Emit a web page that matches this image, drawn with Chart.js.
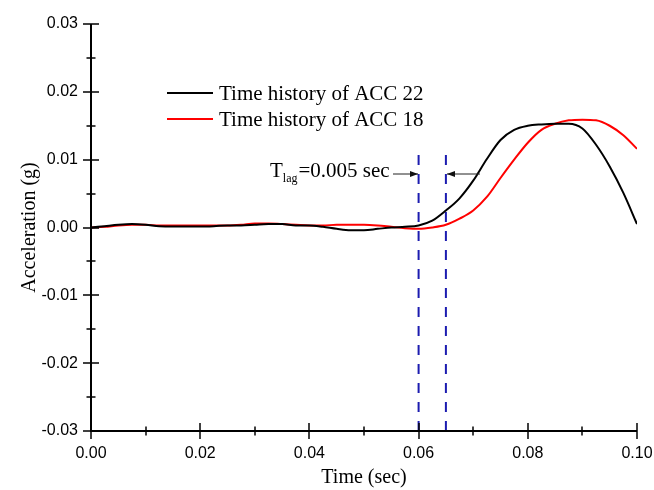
<!DOCTYPE html>
<html>
<head>
<meta charset="utf-8">
<script src="https://cdn.jsdelivr.net/npm/chart.js@4"></script>
<style>
  body { margin: 0; background: #ffffff; }
  #grafico { display: block; }
</style>
</head>
<body>
<canvas id="grafico" width="654" height="490"></canvas>
<script>

// dados (tempo em segundos, aceleracao em g)
const tempo = [0, 0.0025, 0.005, 0.0075, 0.01, 0.0125, 0.015, 0.0175, 0.02, 0.0225,
  0.025, 0.0275, 0.03, 0.0325, 0.035, 0.0375, 0.04, 0.0425, 0.045, 0.0475,
  0.05, 0.0525, 0.055, 0.0575, 0.06, 0.0625, 0.065, 0.0675, 0.07, 0.0725,
  0.075, 0.0775, 0.08, 0.0825, 0.085, 0.0875, 0.09, 0.0925, 0.095, 0.0975, 0.1]

const acc22 = [0, 0.0002, 0.0004, 0.0005, 0.0004, 0.0002, 0.00015, 0.00015, 0.00015, 0.0002,
  0.0003, 0.0003, 0.0004, 0.0005, 0.0005, 0.0003, 0.0003, 0.0001, -0.0002, -0.0004,
  -0.0004, -0.0002, 0.0, 0.0001, 0.0003, 0.0010, 0.0025, 0.0043, 0.0069, 0.0101,
  0.0129, 0.0144, 0.0150, 0.0152, 0.0153, 0.0153, 0.0146, 0.0122, 0.0090, 0.0051, 0.0005]

const acc18 = [0, 0.0001, 0.0003, 0.0004, 0.0004, 0.0003, 0.0003, 0.0003, 0.0003, 0.0003,
  0.0003, 0.0004, 0.0006, 0.0006, 0.0005, 0.0004, 0.0003, 0.0003, 0.0004, 0.0004,
  0.0004, 0.0003, 0.0001, -0.0001, -0.0002, 0.0, 0.0004, 0.0013, 0.0025, 0.0045,
  0.0073, 0.0100, 0.0125, 0.0144, 0.0153, 0.0158, 0.0159, 0.0158, 0.0150, 0.0136, 0.0116]

// linhas tracejadas do atraso
const tLag = [0.06, 0.065]
const lagFaixa = [-0.03, 0.0113]

const legendas = ['Time history of ACC 22', 'Time history of ACC 18']
const cores = ['#000000', '#ff0000']

function pontos(xs, ys) {
  return xs.map(function (x, i) { return { x: x, y: ys[i] } })
}


// eixos desenhados na mao (ticks cruzando o eixo)
const eixosPlugin = {
  id: 'eixos',
  afterDraw(chart) {
    const c = chart.ctx
    const a = chart.chartArea
    const sx = chart.scales.x
    const sy = chart.scales.y
    c.save()
    c.strokeStyle = '#000'
    c.lineWidth = 2
    c.beginPath()
    c.moveTo(a.left, a.top)
    c.lineTo(a.left, a.bottom)
    c.lineTo(a.right, a.bottom)
    c.stroke()

    c.lineWidth = 1.5
    sy.ticks.forEach(function (t) {
      const y = Math.round(sy.getPixelForValue(t.value))
      const maior = Math.round(t.value * 200) % 2 === 0
      const l = maior ? 8 : 4.5
      c.beginPath()
      c.moveTo(a.left - l, y)
      c.lineTo(a.left + l, y)
      c.stroke()
    })
    sx.ticks.forEach(function (t) {
      const x = Math.round(sx.getPixelForValue(t.value))
      const maior = Math.round(t.value * 100) % 2 === 0
      const l = maior ? 8 : 4.5
      c.beginPath()
      c.moveTo(x, a.bottom - l)
      c.lineTo(x, a.bottom + l)
      c.stroke()
    })

    // legenda
    c.font = '21px "Liberation Serif", "Times New Roman", serif'
    c.textBaseline = 'middle'
    c.textAlign = 'left'
    const ys = [93, 119]
    legendas.forEach(function (txt, i) {
      c.strokeStyle = cores[i]
      c.lineWidth = 2
      c.beginPath()
      c.moveTo(167, ys[i])
      c.lineTo(213, ys[i])
      c.stroke()
      c.fillStyle = '#000'
      c.fillText(txt, 219, ys[i] + 1)
    })

    // anotacao T_lag
    c.textBaseline = 'alphabetic'
    c.font = '21px "Liberation Serif", "Times New Roman", serif'
    c.fillText('T', 270, 177)
    let px = 270 + c.measureText('T').width
    c.font = '12px "Liberation Serif", "Times New Roman", serif'
    c.fillText('lag', px, 182)
    px += c.measureText('lag').width + 1
    c.font = '21px "Liberation Serif", "Times New Roman", serif'
    c.fillText('=0.005 sec', px, 177)

    const xl = Math.round(sx.getPixelForValue(tLag[0]))
    const xr = Math.round(sx.getPixelForValue(tLag[1]))
    const ya = 174
    c.strokeStyle = '#222'
    c.fillStyle = '#111'
    c.lineWidth = 1
    c.beginPath()
    c.moveTo(393, ya)
    c.lineTo(xl - 1, ya)
    c.moveTo(xr + 1, ya)
    c.lineTo(480, ya)
    c.stroke()
    c.beginPath()
    c.moveTo(xl - 1, ya)
    c.lineTo(xl - 9, ya - 3)
    c.lineTo(xl - 9, ya + 3)
    c.closePath()
    c.fill()
    c.beginPath()
    c.moveTo(xr + 1, ya)
    c.lineTo(xr + 9, ya - 3)
    c.lineTo(xr + 9, ya + 3)
    c.closePath()
    c.fill()
    c.restore()
  }
}


const ctx = document.getElementById('grafico')

new Chart(ctx, {
  type: 'line',
  data: {
    datasets: [{
      label: legendas[0],
      data: pontos(tempo, acc22),
      borderColor: cores[0],
      borderWidth: 2,
      pointRadius: 0,
      cubicInterpolationMode: 'monotone'
    }, {
      label: legendas[1],
      data: pontos(tempo, acc18),
      borderColor: cores[1],
      borderWidth: 2,
      pointRadius: 0,
      cubicInterpolationMode: 'monotone'
    }, {
      label: 'lag 1',
      data: pontos([tLag[0], tLag[0]], lagFaixa),
      borderColor: '#1c1cb0',
      borderWidth: 2,
      borderDash: [10, 9],
      pointRadius: 0
    }, {
      label: 'lag 2',
      data: pontos([tLag[1], tLag[1]], lagFaixa),
      borderColor: '#1c1cb0',
      borderWidth: 2,
      borderDash: [10, 9],
      pointRadius: 0
    }]
  },
  options: {
    responsive: false,
    animation: false,
    devicePixelRatio: 1,
    layout: {
      padding: { top: 24, right: 17, bottom: 0, left: 0 }
    },
    plugins: {
      legend: { display: false },
      tooltip: { enabled: false }
    },
    scales: {
      x: {
        type: 'linear',
        min: 0,
        max: 0.1,
        afterFit: function (s) {
          s.height = 59
          s.paddingLeft = 0
          s.paddingRight = 0
        },
        grid: { display: false, drawTicks: true, tickLength: 8 },
        border: { display: false },
        ticks: {
          stepSize: 0.01,
          padding: 5,
          maxRotation: 0,
          autoSkip: false,
          color: '#000',
          font: { family: '"Liberation Sans", Arial, sans-serif', size: 16 },
          callback: function (v) { return Math.round(v * 100) % 2 === 0 ? v.toFixed(2) : '' }
        },
        title: {
          display: true,
          text: 'Time (sec)',
          color: '#000',
          font: { family: '"Liberation Serif", "Times New Roman", serif', size: 20 },
          padding: { top: 0, bottom: 0 }
        }
      },
      y: {
        min: -0.03,
        max: 0.03,
        afterFit: function (s) {
          s.width = 91
          s.paddingTop = 0
          s.paddingBottom = 0
        },
        grid: { display: false, drawTicks: true, tickLength: 8 },
        border: { display: false },
        ticks: {
          stepSize: 0.005,
          padding: 5,
          autoSkip: false,
          color: '#000',
          font: { family: '"Liberation Sans", Arial, sans-serif', size: 16 },
          callback: function (v) { return Math.round(v * 200) % 2 === 0 ? v.toFixed(2) : '' }
        },
        title: {
          display: true,
          text: 'Acceleration (g)',
          color: '#000',
          font: { family: '"Liberation Serif", "Times New Roman", serif', size: 20 },
          padding: { top: 18, bottom: 0 }
        }
      }
    }
  },
  plugins: [eixosPlugin]
})

</script>
</body>
</html>
